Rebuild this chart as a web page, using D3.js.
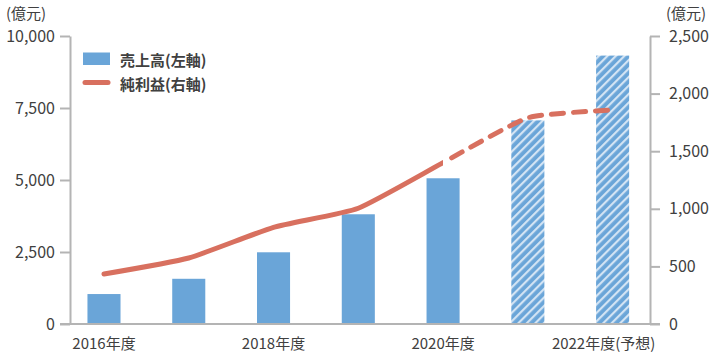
<!DOCTYPE html>
<html>
<head>
<meta charset="utf-8">
<script src="https://cdn.jsdelivr.net/npm/d3@7"></script>
<style>
  body { margin: 0; background: #fff; }
  text { font-family: "Noto Sans CJK JP", "Noto Sans", sans-serif; fill: #404040; }
</style>
</head>
<body>
<div id="chart"></div>
<script>
const width = 714;
const height = 354;

const years = ["2016", "2017", "2018", "2019", "2020", "2021", "2022"];
const xLabels = ["2016年度", "", "2018年度", "", "2020年度", "", "2022年度(予想)"];
const sales = [1040, 1570, 2490, 3810, 5060, 7070, 9320];       // 売上高 (左軸)
const netProfit = [434, 573, 839, 1005, 1400, 1790, 1858];      // 純利益 (右軸)
const forecastFrom = 5; // 2021年度以降はハッチング
const leftTicks = [0, 2500, 5000, 7500, 10000];
const rightTicks = [0, 500, 1000, 1500, 2000, 2500];

const barColor = "#6aa5d8";
const lineColor = "#d8705f";
const axisColor = "#b4b4b4";

const x = d3.scaleBand().domain(years).range([61.6, 655]).padding(0);
const yLeft = d3.scaleLinear().domain([0, 10000]).range([324, 36]);
const yRight = d3.scaleLinear().domain([0, 2500]).range([324, 36]);
const barW = x.bandwidth() * 0.39;
const cx = d => x(d) + x.bandwidth() / 2;

const svg = d3.select("#chart").append("svg")
  .attr("width", width)
  .attr("height", height);

const defs = svg.append("defs");
const pat = defs.append("pattern")
  .attr("id", "hatch")
  .attr("patternUnits", "userSpaceOnUse")
  .attr("width", 6)
  .attr("height", 6)
  .attr("patternTransform", "rotate(45)");
pat.append("rect").attr("width", 6).attr("height", 6).attr("fill", barColor);
pat.append("rect").attr("x", 0).attr("width", 2.2).attr("height", 6).attr("fill", "#d3e4f4");

// bars
svg.append("g")
  .selectAll("rect")
  .data(years)
  .join("rect")
  .attr("x", d => cx(d) - barW / 2)
  .attr("y", (d, i) => yLeft(sales[i]))
  .attr("width", barW)
  .attr("height", (d, i) => yLeft(0) - yLeft(sales[i]))
  .attr("fill", (d, i) => i >= forecastFrom ? "url(#hatch)" : barColor);

// axes
const leftAxis = d3.axisLeft(yLeft)
  .tickValues(leftTicks)
  .tickFormat(d3.format(","))
  .tickSize(10)
  .tickSizeOuter(0)
  .tickPadding(5);
const rightAxis = d3.axisRight(yRight)
  .tickValues(rightTicks)
  .tickFormat(d3.format(","))
  .tickSize(10)
  .tickSizeOuter(0)
  .tickPadding(9);

const gl = svg.append("g").attr("transform", "translate(70,0)").call(leftAxis);
const gr = svg.append("g").attr("transform", "translate(650,0)").call(rightAxis);
[gl, gr].forEach(g => {
  g.select(".domain").attr("stroke", axisColor).attr("stroke-width", 2);
  g.selectAll(".tick line").attr("stroke", axisColor).attr("stroke-width", 2);
  g.selectAll(".tick text")
    .attr("font-size", 16)
    .attr("font-family", "'Noto Sans CJK JP', sans-serif")
    .attr("fill", "#404040");
});

svg.append("line")
  .attr("x1", 60).attr("x2", 660)
  .attr("y1", yLeft(0)).attr("y2", yLeft(0))
  .attr("stroke", axisColor).attr("stroke-width", 2);

// x labels
svg.append("g")
  .selectAll("text")
  .data(years)
  .join("text")
  .attr("x", (d, i) => cx(d) + (i === years.length - 1 ? -9 : 0))
  .attr("y", 349)
  .attr("text-anchor", "middle")
  .attr("font-size", 15)
  .text((d, i) => xLabels[i]);

// unit labels
svg.append("text").attr("x", 6).attr("y", 19).attr("font-size", 15).text("(億元)");
svg.append("text").attr("x", 666).attr("y", 19).attr("font-size", 15).text("(億元)");

// net profit line, solid then dashed for forecast
const pts = years.map((d, i) => [cx(d), yRight(netProfit[i])]);
const line = d3.line().curve(d3.curveCardinal.tension(0.5));
const splitX = cx(years[forecastFrom - 1]);

defs.append("clipPath").attr("id", "clipSolid")
  .append("rect").attr("x", 0).attr("y", 0).attr("width", splitX).attr("height", height);

svg.append("path")
  .attr("d", line(pts))
  .attr("fill", "none")
  .attr("stroke", lineColor)
  .attr("stroke-width", 5)
  .attr("stroke-linecap", "round")
  .attr("clip-path", "url(#clipSolid)");

svg.append("path")
  .attr("d", line(pts.slice(forecastFrom - 1)))
  .attr("fill", "none")
  .attr("stroke", lineColor)
  .attr("stroke-width", 5)
  .attr("stroke-linecap", "round")
  .attr("stroke-dasharray", "12 10")
  .attr("stroke-dashoffset", -10);

// legend
const legend = svg.append("g");
legend.append("rect")
  .attr("x", 83).attr("y", 52.5).attr("width", 27).attr("height", 12.5)
  .attr("fill", barColor);
legend.append("line")
  .attr("x1", 85).attr("x2", 108).attr("y1", 82.5).attr("y2", 82.5)
  .attr("stroke", lineColor).attr("stroke-width", 5).attr("stroke-linecap", "round");
legend.append("text")
  .attr("x", 120).attr("y", 59)
  .attr("dominant-baseline", "central")
  .attr("font-size", 15).attr("font-weight", "bold").attr("fill", "#333")
  .text("売上高(左軸)");
legend.append("text")
  .attr("x", 120).attr("y", 83)
  .attr("dominant-baseline", "central")
  .attr("font-size", 15).attr("font-weight", "bold").attr("fill", "#333")
  .text("純利益(右軸)");
</script>
</body>
</html>
